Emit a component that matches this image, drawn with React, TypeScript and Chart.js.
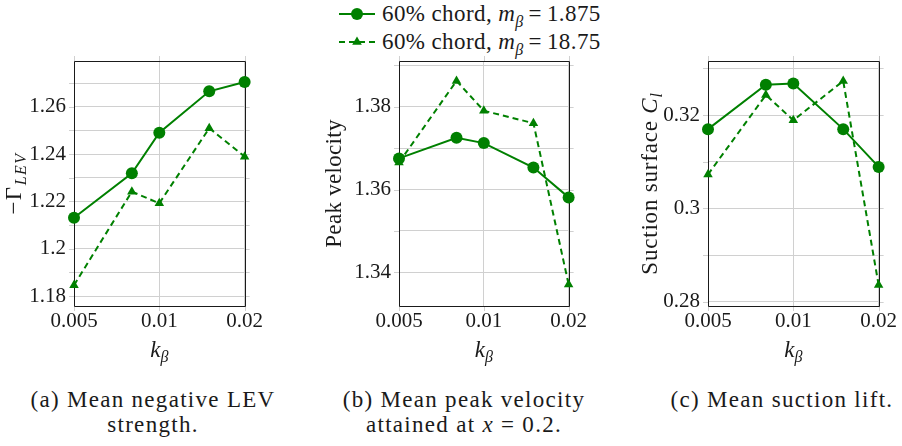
import React, { useEffect, useRef } from "react";
import { Chart, registerables } from "chart.js";
Chart.register(...registerables);

// ---------------- data ----------------
const K_BETA = [0.005, 0.008, 0.01, 0.015, 0.02];
const X_TICKS = [0.005, 0.01, 0.02];
const X_TICK_LABELS = ["0.005", "0.01", "0.02"];

const SERIES_1_LABEL = "60% chord, m_β = 1.875";
const SERIES_2_LABEL = "60% chord, m_β = 18.75";

// (a) mean negative LEV strength
const LEV_M1875 = [1.2131, 1.2319, 1.249, 1.2665, 1.2704];
const LEV_M1875_10 = [1.1846, 1.2241, 1.2192, 1.2509, 1.2389];
const LEV_Y_GRID = [1.18, 1.19, 1.2, 1.21, 1.22, 1.23, 1.24, 1.25, 1.26, 1.27];
const LEV_Y_LABELS = [1.18, 1.2, 1.22, 1.24, 1.26];

// (b) mean peak velocity
const PEAK_M1875 = [1.3675, 1.3725, 1.3712, 1.3653, 1.3581];
const PEAK_M1875_10 = [1.3665, 1.3862, 1.379, 1.376, 1.3371];
const PEAK_Y_GRID = [1.34, 1.35, 1.36, 1.37, 1.38, 1.39];
const PEAK_Y_LABELS = [1.34, 1.36, 1.38];

// (c) mean suction lift
const CL_M1875 = [0.317, 0.3265, 0.3268, 0.317, 0.3089];
const CL_M1875_10 = [0.3073, 0.3243, 0.3189, 0.3273, 0.2836];
const CL_Y_GRID = [0.28, 0.29, 0.3, 0.31, 0.32, 0.33];
const CL_Y_LABELS = [0.28, 0.3, 0.32];

// ---------------- styles ----------------
const GREEN = "rgb(0,128,0)";
const FAM = "'Liberation Serif', serif";
const TICK_FS = 21;
const TITLE_FS = 23;
const SUB_FS = 16;
const TEXT = "#1a1a1a";
const GRID = "#d0d0d0";
const FRAME = "#1a1a1a";

type Seg = { t: string; it?: boolean; sub?: boolean };

function drawRich(ctx: CanvasRenderingContext2D, segs: Seg[], x: number, y: number, rotated: boolean, ls: number) {
  const font = (s: Seg) => `${s.it ? "italic " : ""}${s.sub ? SUB_FS : TITLE_FS}px ${FAM}`;
  ctx.save();
  (ctx as any).letterSpacing = `${ls}px`;
  let total = 0;
  const widths = segs.map((s) => {
    ctx.font = font(s);
    const w = ctx.measureText(s.t).width;
    total += w;
    return w;
  });
  ctx.translate(x, y);
  if (rotated) ctx.rotate(-Math.PI / 2);
  ctx.fillStyle = TEXT;
  ctx.textBaseline = "alphabetic";
  ctx.textAlign = "left";
  let cx = -total / 2;
  segs.forEach((s, i) => {
    ctx.font = font(s);
    ctx.fillText(s.t, cx, s.sub ? 5 : 0);
    cx += widths[i];
  });
  ctx.restore();
}

type PanelProps = {
  left: number;
  width: number;
  yAxisWidth: number;
  s1: number[];
  s2: number[];
  yMin: number;
  yMax: number;
  yGrid: number[];
  yLabels: number[];
  yTitle: Seg[];
  yTitleOffset: number;
  yTitleSpacing: number;
};

const TOP = 40;
const HEIGHT = 330;
const AREA_TOP = 61;
const AREA_BOTTOM = 306;

function Panel(p: PanelProps) {
  const ref = useRef<HTMLCanvasElement>(null);
  useEffect(() => {
    const areaRight = p.width - 20;
    const framePlugin = {
      id: "frame",
      beforeDatasetsDraw(chart: any) {
        const { ctx, chartArea: a, scales } = chart;
        ctx.save();
        ctx.strokeStyle = GRID;
        ctx.lineWidth = 1;
        const ext = 5;
        scales.y.ticks.forEach((t: any) => {
          const py = Math.round(scales.y.getPixelForValue(t.value)) + 0.5;
          ctx.beginPath();
          ctx.moveTo(a.left - ext, py);
          ctx.lineTo(a.left, py);
          ctx.moveTo(a.right, py);
          ctx.lineTo(a.right + ext, py);
          ctx.stroke();
        });
        scales.x.ticks.forEach((t: any) => {
          const px = Math.round(scales.x.getPixelForValue(t.value)) + 0.5;
          ctx.beginPath();
          ctx.moveTo(px, a.top - ext);
          ctx.lineTo(px, a.top);
          ctx.moveTo(px, a.bottom);
          ctx.lineTo(px, a.bottom + ext);
          ctx.stroke();
        });
        ctx.strokeStyle = FRAME;
        ctx.beginPath();
        ctx.rect(Math.round(a.left) + 0.5, Math.round(a.top) + 0.5, Math.round(a.right - a.left), Math.round(a.bottom - a.top));
        ctx.stroke();
        ctx.restore();
      },
      afterDraw(chart: any) {
        const { ctx, chartArea: a } = chart;
        drawRich(ctx, p.yTitle, a.left - p.yTitleOffset, (a.top + a.bottom) / 2, true, p.yTitleSpacing);
        drawRich(ctx, [{ t: "k", it: true }, { t: "β", it: true, sub: true }], (a.left + a.right) / 2, 357 - TOP, false, 0);
      },
    };
    const chart = new Chart(ref.current!, {
      type: "line",
      data: {
        datasets: [
          {
            label: SERIES_1_LABEL,
            data: K_BETA.map((x, i) => ({ x, y: p.s1[i] })),
            borderColor: GREEN,
            backgroundColor: GREEN,
            borderWidth: 2,
            pointStyle: "circle",
            pointRadius: 6,
            pointBorderWidth: 0,
            clip: false,
          },
          {
            label: SERIES_2_LABEL,
            data: K_BETA.map((x, i) => ({ x, y: p.s2[i] })),
            borderColor: GREEN,
            backgroundColor: GREEN,
            borderWidth: 2,
            borderDash: [6, 4],
            pointStyle: "triangle",
            pointRadius: 5.5,
            pointBorderWidth: 0,
            clip: false,
          },
        ],
      },
      options: {
        responsive: false,
        animation: false,
        devicePixelRatio: 1,
        layout: { padding: { left: 0, top: AREA_TOP - TOP, right: p.width - areaRight, bottom: 0 } },
        plugins: { legend: { display: false }, tooltip: { enabled: false } },
        scales: {
          x: {
            type: "logarithmic",
            min: 0.005,
            max: 0.02,
            afterBuildTicks: (s: any) => {
              s.ticks = X_TICKS.map((v) => ({ value: v }));
            },
            afterFit: (s: any) => {
              s.height = TOP + HEIGHT - AREA_BOTTOM;
            },
            grid: { color: GRID, drawTicks: false },
            border: { display: false },
            ticks: {
              autoSkip: false,
              maxRotation: 0,
              padding: 3,
              color: TEXT,
              font: { family: FAM, size: TICK_FS },
              callback: (v: any) => {
                const i = X_TICKS.findIndex((t) => Math.abs(t - Number(v)) < 1e-9);
                return i >= 0 ? X_TICK_LABELS[i] : "";
              },
            },
          },
          y: {
            type: "linear",
            min: p.yMin,
            max: p.yMax,
            afterBuildTicks: (s: any) => {
              s.ticks = p.yGrid.map((v) => ({ value: v }));
            },
            afterFit: (s: any) => {
              s.width = p.yAxisWidth;
            },
            grid: { color: GRID, drawTicks: false },
            border: { display: false },
            ticks: {
              autoSkip: false,
              padding: 8,
              color: TEXT,
              font: { family: FAM, size: TICK_FS },
              callback: (v: any) => {
                const l = p.yLabels.find((t) => Math.abs(t - Number(v)) < 1e-9);
                return l === undefined ? "" : String(l);
              },
            },
          },
        },
      } as any,
      plugins: [framePlugin],
    });
    return () => chart.destroy();
  }, []);
  return (
    <div style={{ position: "absolute", left: p.left, top: TOP, width: p.width, height: HEIGHT }}>
      <canvas ref={ref} width={p.width} height={HEIGHT} style={{ display: "block" }} />
    </div>
  );
}

const textStyle: React.CSSProperties = {
  fontFamily: FAM,
  fontSize: TITLE_FS,
  color: TEXT,
  whiteSpace: "nowrap",
};

function LegendRow({ dashed, top, value }: { dashed: boolean; top: number; value: string }) {
  return (
    <div style={{ position: "absolute", left: 339, top, height: 28, display: "flex", alignItems: "center", ...textStyle }}>
      <svg width={36} height={14} style={{ display: "block" }}>
        <line x1={0} y1={7} x2={36} y2={7} stroke={GREEN} strokeWidth={2} strokeDasharray={dashed ? "6 4" : undefined} />
        {dashed ? (
          <polygon points="18,1.5 22.8,9.8 13.2,9.8" fill={GREEN} />
        ) : (
          <circle cx={18} cy={7} r={6} fill={GREEN} />
        )}
      </svg>
      <span style={{ marginLeft: 7, letterSpacing: "0.4px" }}>
        60% chord, <i>m</i>
        <sub style={{ fontSize: SUB_FS, fontStyle: "italic", lineHeight: 0 }}>β</sub>
        {"\u2009=\u2009"}
        {value}
      </span>
    </div>
  );
}

function Caption({ center, lines }: { center: number; lines: React.ReactNode[] }) {
  return (
    <div
      style={{
        position: "absolute",
        left: center - 170,
        width: 340,
        top: 387,
        textAlign: "center",
        lineHeight: "25px",
        letterSpacing: "1.3px",
        ...textStyle,
      }}
    >
      {lines.map((l, i) => (
        <div key={i}>{l}</div>
      ))}
    </div>
  );
}

export default function App() {
  return (
    <div style={{ position: "absolute", left: 0, top: 0, width: 902, height: 446, background: "#fff", overflow: "hidden" }}>
      <LegendRow dashed={false} top={0} value="1.875" />
      <LegendRow dashed={true} top={28} value="18.75" />
      <Panel
        left={0}
        width={266}
        yAxisWidth={74}
        s1={LEV_M1875}
        s2={LEV_M1875_10}
        yMin={1.1758}
        yMax={1.2793}
        yGrid={LEV_Y_GRID}
        yLabels={LEV_Y_LABELS}
        yTitle={[{ t: "−Γ" }, { t: "LEV", it: true, sub: true }]}
        yTitleOffset={53}
        yTitleSpacing={1.5}
      />
      <Panel
        left={300}
        width={290}
        yAxisWidth={99}
        s1={PEAK_M1875}
        s2={PEAK_M1875_10}
        yMin={1.3319}
        yMax={1.391}
        yGrid={PEAK_Y_GRID}
        yLabels={PEAK_Y_LABELS}
        yTitle={[{ t: "Peak velocity" }]}
        yTitleOffset={58}
        yTitleSpacing={0.3}
      />
      <Panel
        left={600}
        width={300}
        yAxisWidth={108}
        s1={CL_M1875}
        s2={CL_M1875_10}
        yMin={0.2791}
        yMax={0.3316}
        yGrid={CL_Y_GRID}
        yLabels={CL_Y_LABELS}
        yTitle={[{ t: "Suction surface " }, { t: "C", it: true }, { t: "l", it: true, sub: true }]}
        yTitleOffset={51}
        yTitleSpacing={0.8}
      />
      <Caption center={153} lines={["(a) Mean negative LEV", "strength."]} />
      <Caption
        center={464}
        lines={[
          "(b) Mean peak velocity",
          <span key="b">
            attained at <i>x</i> = 0.2.
          </span>,
        ]}
      />
      <Caption center={782} lines={["(c) Mean suction lift."]} />
    </div>
  );
}
